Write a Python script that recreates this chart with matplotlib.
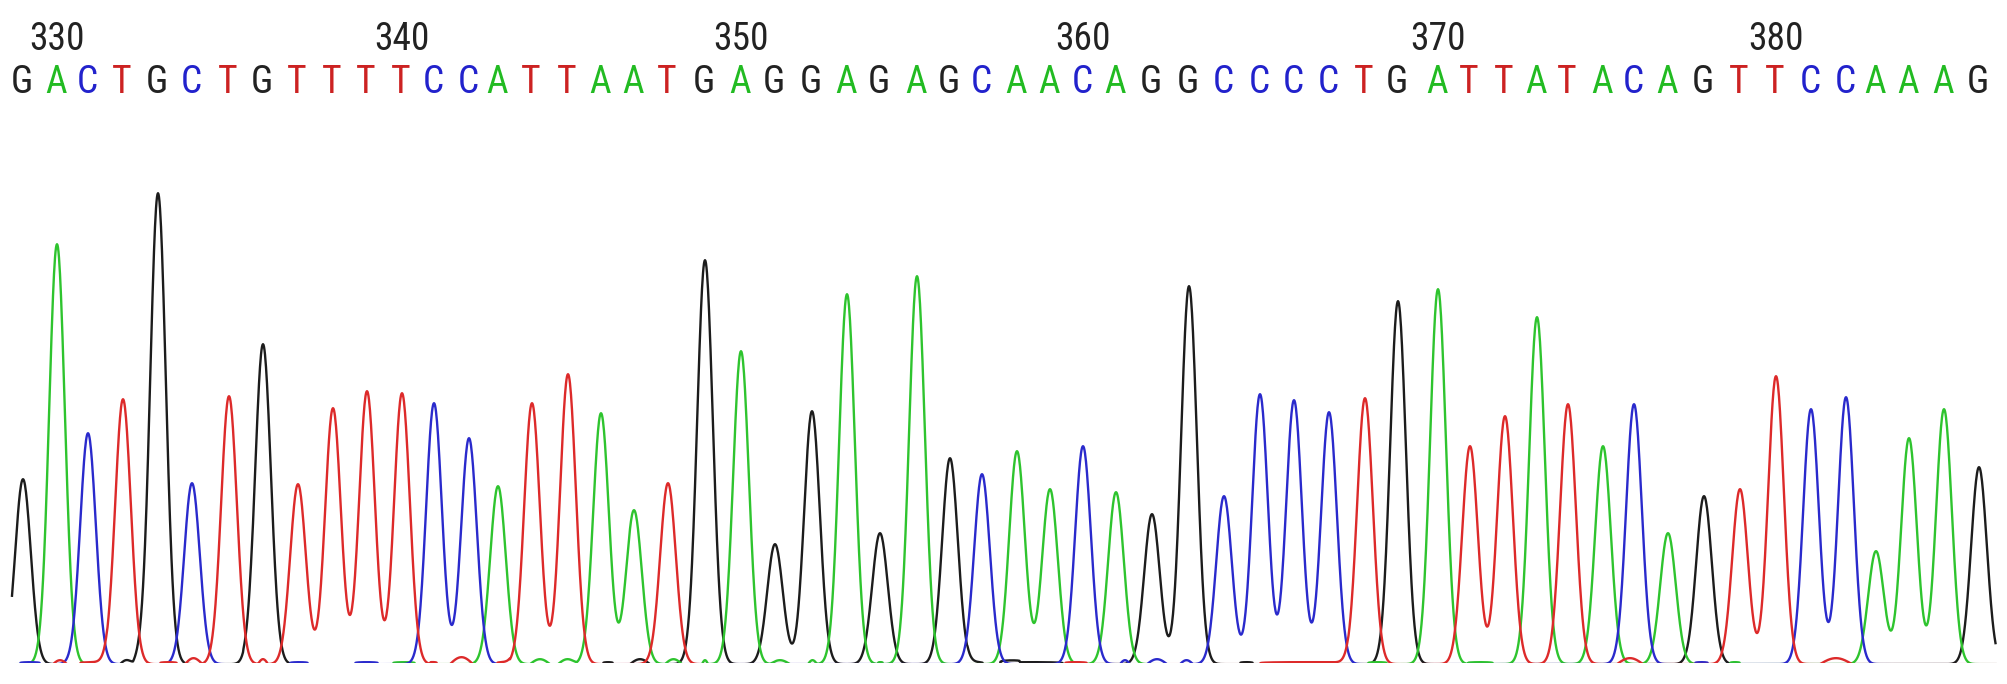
import numpy as np
import matplotlib
matplotlib.use("Agg")
import matplotlib.pyplot as plt

# ---------------- data ----------------
bases = "GACTGCTGTTTTCCATTAATGAGGAGAGCAACAGGCCCCTGATTATACAGTTCCAAAG"
first_position = 329
peak_x = [23, 57, 88, 123, 158, 192, 229, 263, 298, 333,
          367, 402, 434, 469, 498, 532, 568, 601, 634, 668,
          705, 741, 775, 812, 847, 880, 917, 950, 982, 1017,
          1050, 1083, 1116, 1152, 1189, 1224, 1260, 1294, 1329, 1365,
          1398, 1438, 1470, 1505, 1537, 1568, 1603, 1634, 1668, 1704,
          1740, 1776, 1811, 1846, 1876, 1909, 1944, 1979]
peak_h = [185, 420, 231, 265, 471, 181, 268, 320, 180, 256,
          273, 271, 261, 226, 178, 261, 290, 251, 154, 181,
          404, 313, 120, 253, 370, 131, 388, 206, 190, 213,
          175, 218, 172, 150, 378, 168, 270, 264, 252, 266,
          363, 375, 218, 248, 347, 260, 218, 260, 131, 168,
          175, 288, 255, 267, 113, 226, 255, 197]
label_positions = [330, 340, 350, 360, 370, 380]

# small baseline signal (channel, start, end, level)
noise_base = ["C", "T", "T", "G", "G", "T", "T", "G", "T", "C", "C", "A", "T", "T", "T",
              "A", "A", "G", "G", "A", "A", "A", "A", "A", "G", "G",
              "G", "T", "C", "C", "C", "G", "T", "A", "A",
              "T", "C", "A", "T"]
noise_start = [20, 53, 80, 120, 133, 160, 185, 243, 258, 290, 355, 393, 430, 450, 497,
               530, 558, 603, 630, 665, 702, 770, 808, 878, 967, 1000,
               1000, 1065, 1120, 1147, 1180, 1240, 1260, 1368, 1468,
               1617, 1695, 1730, 1820]
noise_end = [40, 67, 107, 133, 147, 177, 202, 253, 268, 308, 378, 415, 437, 473, 510,
             550, 577, 613, 650, 682, 708, 790, 817, 883, 983, 1020,
             1063, 1087, 1130, 1167, 1193, 1253, 1348, 1387, 1493,
             1643, 1708, 1740, 1852]
noise_level = [2, 4, 2, 4, 4, 2, 6, 2, 5, 2, 2, 2, 2, 7, 2,
               5, 5, 2, 5, 5, 4, 4, 4, 2, 2, 2,
               2, 2, 4, 5, 4, 2, 2, 2, 2,
               6, 2, 2, 6]

# ---------------- styles ----------------
trace_colors = {"G": "#1c1c1c", "A": "#2ec42e", "C": "#2a2acc", "T": "#dd2a2a"}
text_colors = {"G": "#222222", "A": "#22bb22", "C": "#2222cc", "T": "#cc2222"}
sigma = 7.8

W, H = 2008, 684
fig = plt.figure(figsize=(W / 100, H / 100), dpi=100)
fig.patch.set_facecolor("white")
base_px = 663  # baseline row from top
ax = fig.add_axes([0, (H - base_px) / H, 1, base_px / H])
ax.set_xlim(0, W)
ax.set_ylim(1.2, base_px + 1.2)
ax.axis("off")

x = np.arange(12, 1996, 0.5)
px = np.array(peak_x, dtype=float)
ph = np.array(peak_h, dtype=float)

for ch in ["G", "A", "C", "T"]:
    y = np.zeros_like(x)
    for b, cx, h in zip(bases, px, ph):
        if b == ch:
            y += h * np.exp(-(x - cx) ** 2 / (2 * sigma ** 2))
    for b, s, e, lv in zip(noise_base, noise_start, noise_end, noise_level):
        if b == ch:
            t = np.clip((x - s) / (e - s), 0, 1)
            p = 1.0 if lv > 3 else 0.15
            y += lv * np.sin(np.pi * t) ** p
    ax.plot(x, y, color=trace_colors[ch], lw=1.7, solid_joinstyle="round")

fam = ["Roboto Condensed", "Liberation Sans Narrow", "Liberation Sans", "DejaVu Sans"]
for i, (b, cx) in enumerate(zip(bases, px)):
    ax.text(cx - 1, base_px + 1.2 - 93, b, color=text_colors[b], fontsize=27,
            ha="center", va="baseline", family=fam)
for lp in label_positions:
    i = lp - first_position
    ax.text(px[i], base_px + 1.2 - 50, str(lp), color="#222222", fontsize=27,
            ha="center", va="baseline", family=fam)

fig.savefig("out.png", dpi=100, facecolor="white")
